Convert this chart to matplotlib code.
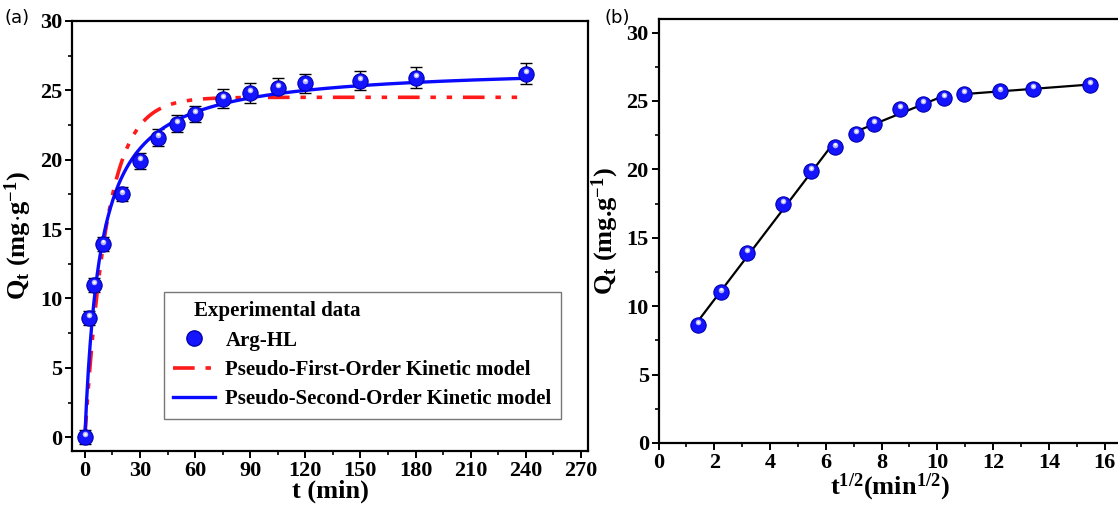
import numpy as np
import matplotlib
matplotlib.use("Agg")
import matplotlib.pyplot as plt
from matplotlib.ticker import MultipleLocator
from matplotlib.transforms import offset_copy
from matplotlib.lines import Line2D

# contact time (min) and uptake (mg/g)
t = [0, 2, 5, 10, 20, 30, 40, 50, 60, 75, 90, 105, 120, 150, 180, 240]
qt = [0, 8.6, 11.0, 13.9, 17.5, 19.9, 21.6, 22.6, 23.3, 24.4, 24.8, 25.2, 25.5, 25.7, 25.9, 26.2]
qerr = [0.5, 0.5, 0.5, 0.5, 0.5, 0.6, 0.6, 0.6, 0.6, 0.7, 0.7, 0.7, 0.7, 0.7, 0.75, 0.75]

# kinetic model parameters
pfo_qe = 24.5
pfo_k1 = 0.083
pso_qe = 26.8
pso_h = 3.1

# intra-particle diffusion segments (index ranges of the points used per fit)
segments = [(1, 7), (7, 12), (12, 16)]

serif = 'Liberation Serif'
plt.rcParams['font.family'] = [serif, 'DejaVu Serif']
plt.rcParams['font.weight'] = 'bold'
plt.rcParams['axes.linewidth'] = 1.6
plt.rcParams['mathtext.fontset'] = 'custom'
plt.rcParams['mathtext.rm'] = 'Liberation Serif:bold'
plt.rcParams['mathtext.it'] = 'Liberation Serif:bold'
plt.rcParams['mathtext.bf'] = 'Liberation Serif:bold'

fig = plt.figure(figsize=(11.18, 5.12), dpi=100)
ax1 = fig.add_axes([0.0644, 0.119, 0.4617, 0.840])
ax2 = fig.add_axes([0.589, 0.135, 0.414, 0.828])

blue = '#1414ff'


def balls(ax, x, y, zorder=5):
    ax.plot(x, y, 'o', ms=11, color=blue, mec='#0000b0', mew=0.8, zorder=zorder)
    tr = offset_copy(ax.transData, fig=fig, x=0, y=2.0, units='points')
    ax.plot(x, y, 'o', ms=4, color='#c8c8ff', mec='none', alpha=0.9, transform=tr, zorder=zorder + 1)
    tr2 = offset_copy(ax.transData, fig=fig, x=0, y=2.2, units='points')
    ax.plot(x, y, 'o', ms=2, color='white', mec='none', transform=tr2, zorder=zorder + 2)


# ---- (a) ----
tt = np.linspace(0, 240, 500)
q_pfo = pfo_qe * (1 - np.exp(-pfo_k1 * tt))
q_pso = pso_h * tt / (1 + pso_h * tt / pso_qe)

ax1.errorbar(t, qt, yerr=qerr, fmt='none', ecolor='black', elinewidth=1.0, capsize=4.5, capthick=1.0, zorder=3)
balls(ax1, t, qt)
ax1.plot(tt, q_pfo, color='#ff1a1a', lw=2.6, dashes=[6, 3, 1.5, 3, 1.5, 3], zorder=4)
ax1.plot(tt, q_pso, color='#0a0aff', lw=2.4, zorder=4)

ax1.set_xlim(-7, 274)
ax1.set_ylim(-1, 30)
ax1.xaxis.set_major_locator(MultipleLocator(30))
ax1.xaxis.set_minor_locator(MultipleLocator(15))
ax1.yaxis.set_major_locator(MultipleLocator(5))
ax1.yaxis.set_minor_locator(MultipleLocator(2.5))
ax1.set_xlabel('t (min)', fontsize=19, fontweight='bold', labelpad=-1)
ax1.set_ylabel(r'Q$_\mathregular{t}$ (mg$\cdot$g$^\mathregular{-1}$)', fontsize=19, fontweight='bold', labelpad=4)

h_ball = Line2D([], [], ls='none', marker='o', ms=11, color=blue, mec='#0000b0')
h_pfo = Line2D([], [], color='#ff1a1a', lw=2.6, dashes=[6, 3, 1.5, 3, 1.5, 3])
h_pso = Line2D([], [], color='#0a0aff', lw=2.4)
leg = ax1.legend([h_ball, h_pfo, h_pso],
                 ['Arg-HL', 'Pseudo-First-Order Kinetic model', 'Pseudo-Second-Order Kinetic model'],
                 title='    Experimental data', loc='lower left', bbox_to_anchor=(0.178, 0.075),
                 fontsize=15, title_fontproperties={'weight': 'bold', 'size': 15},
                 fancybox=False, edgecolor='#555555', handlelength=2.0, handletextpad=0.5,
                 borderpad=0.45, labelspacing=0.45, borderaxespad=0)
leg._legend_box.align = 'left'
leg.get_frame().set_linewidth(1.0)

fig.text(0.004, 0.955, '(a)', fontsize=13, family='DejaVu Sans', fontweight='normal')

# ---- (b) ----
st = np.sqrt(t)
balls(ax2, st[1:], qt[1:])
for i0, i1 in segments:
    xs = st[i0:i1]
    p = np.polyfit(xs, qt[i0:i1], 1)
    ax2.plot([xs[0], xs[-1]], np.polyval(p, [xs[0], xs[-1]]), color='black', lw=1.6, zorder=4)

ax2.set_xlim(0, 16.6)
ax2.set_ylim(0, 31)
ax2.xaxis.set_major_locator(MultipleLocator(2))
ax2.xaxis.set_minor_locator(MultipleLocator(1))
ax2.yaxis.set_major_locator(MultipleLocator(5))
ax2.yaxis.set_minor_locator(MultipleLocator(2.5))
ax2.set_xlabel(r't$^\mathregular{1/2}$(min$^\mathregular{1/2}$)', fontsize=19, fontweight='bold', labelpad=-1)
ax2.set_ylabel(r'Q$_\mathregular{t}$ (mg.g$^\mathregular{-1}$)', fontsize=19, fontweight='bold', labelpad=4)
ax2.spines['right'].set_visible(False)

fig.text(0.541, 0.955, '(b)', fontsize=13, family='DejaVu Sans', fontweight='normal')

for ax in (ax1, ax2):
    ax.tick_params(which='major', direction='out', length=5, width=1.4, labelsize=16, pad=2,
                   labelfontfamily=serif)
    ax.tick_params(which='minor', direction='out', length=3, width=1.2)

fig.savefig('out.png', dpi=100)
